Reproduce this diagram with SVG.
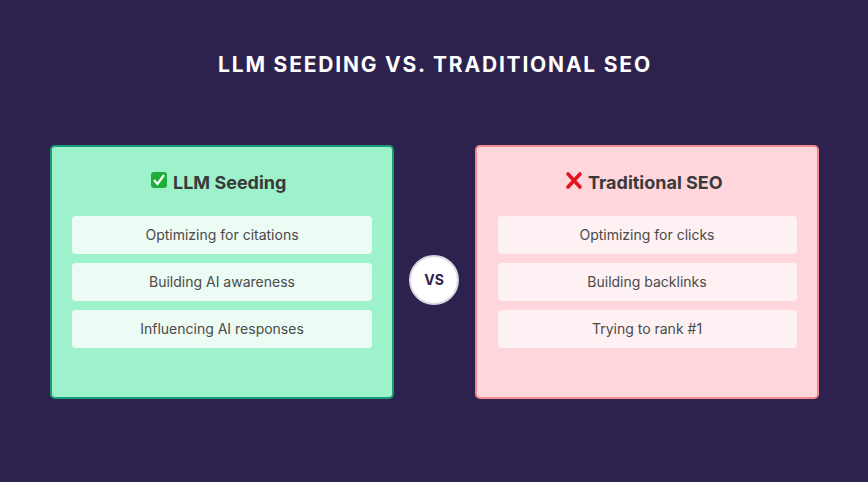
<svg xmlns="http://www.w3.org/2000/svg" width="868" height="482" viewBox="0 0 868 482">
<style>
.t{font-family:Inter,"Liberation Sans",sans-serif}
.h{font-size:18px;font-weight:700;fill:#3a3a3a}
.i{font-size:14px;fill:#4a4a4a}
.gi{fill:#ecfbf3}
.ri{fill:#fdf1f4}
</style>
<rect width="868" height="482" fill="#2d224d"/>
<text class="t" x="435" y="72" text-anchor="middle" font-size="21" font-weight="700" fill="#fff" letter-spacing="1.8">LLM SEEDING VS. TRADITIONAL SEO</text>
<g id="llm">
<rect x="51" y="146" width="342" height="252" rx="4" fill="#9ef2cb" stroke="#1a9b78" stroke-width="2"/>
<rect x="151" y="172" width="16" height="16" rx="3" fill="#1fae3a"/>
<path d="M154 180 l3.5 4 l6.5 -9" fill="none" stroke="#fff" stroke-width="2.2"/>
<text class="t h" x="173" y="189">LLM Seeding</text>
<rect class="gi" x="72" y="216" width="300" height="38" rx="4"/>
<text class="t i" x="222" y="240" text-anchor="middle">Optimizing for citations</text>
<rect class="gi" x="72" y="263" width="300" height="38" rx="4"/>
<text class="t i" x="222" y="287" text-anchor="middle">Building AI awareness</text>
<rect class="gi" x="72" y="310" width="300" height="38" rx="4"/>
<text class="t i" x="222" y="334" text-anchor="middle">Influencing AI responses</text>
</g>
<g id="vs">
<circle cx="434" cy="280" r="24" fill="#fff" stroke="#d8d8e0" stroke-width="2"/>
<text class="t" x="434" y="285" text-anchor="middle" font-size="14" font-weight="700" fill="#2d224d">VS</text>
</g>
<g id="seo">
<rect x="476" y="146" width="342" height="252" rx="4" fill="#ffd6dc" stroke="#f08a8f" stroke-width="2"/>
<path d="M568 174 l12 13 M580 174 l-12 13" stroke="#e3141b" stroke-width="3.6" stroke-linecap="round"/>
<text class="t h" x="588" y="189">Traditional SEO</text>
<rect class="ri" x="498" y="216" width="299" height="38" rx="4"/>
<text class="t i" x="647" y="240" text-anchor="middle">Optimizing for clicks</text>
<rect class="ri" x="498" y="263" width="299" height="38" rx="4"/>
<text class="t i" x="647" y="287" text-anchor="middle">Building backlinks</text>
<rect class="ri" x="498" y="310" width="299" height="38" rx="4"/>
<text class="t i" x="647" y="334" text-anchor="middle">Trying to rank #1</text>
</g>
<g id="connectors"/>
</svg>
